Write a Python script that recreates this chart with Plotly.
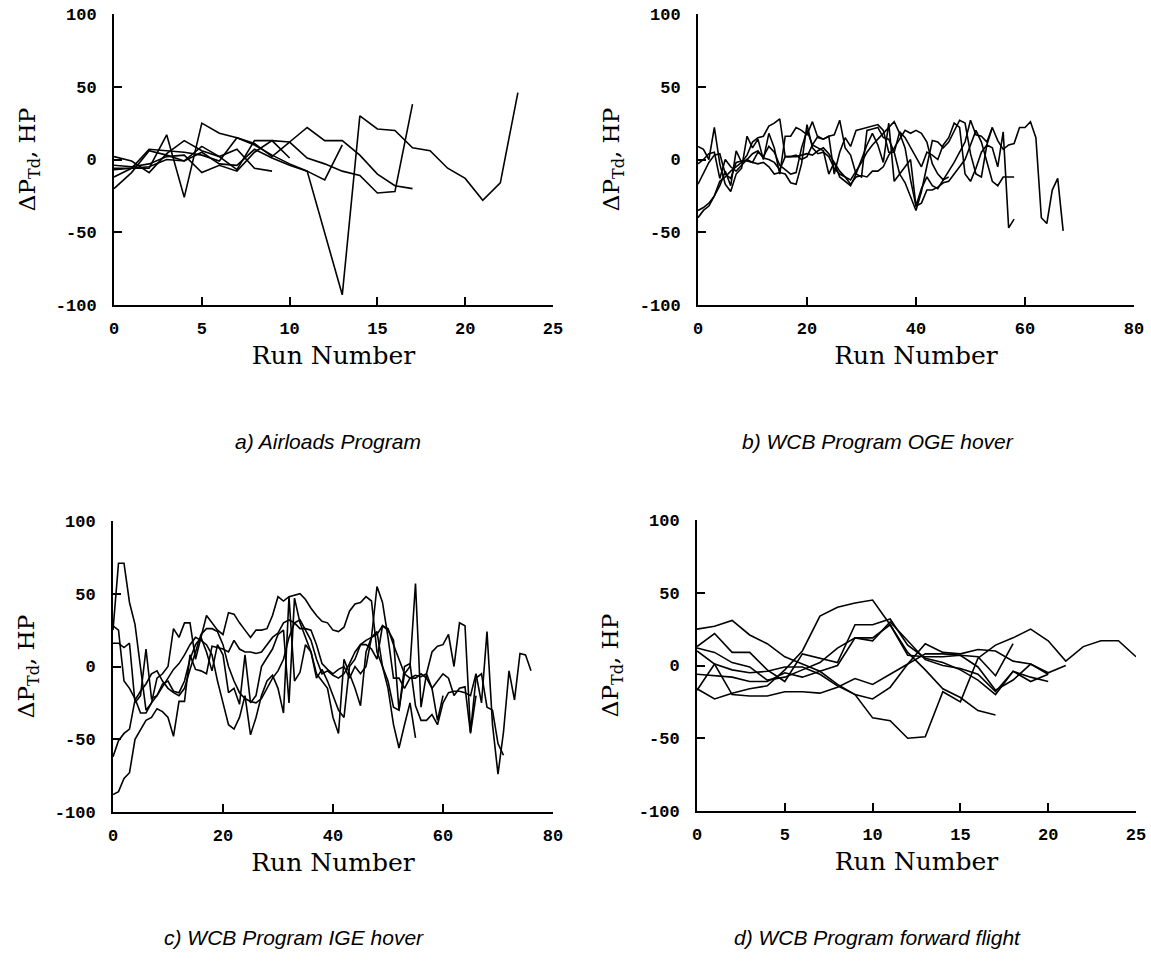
import plotly.graph_objects as go

W, H = 1151, 966

# ---------------- data ----------------
# a) Airloads Program (run number starts at 0)
a_series_1 = [-6, -6, -6, 17, -26, 25, 18, 15, 10, 3, -3, -8, -51, -93, 30, 21, 20, 8, 6, -6, -13, -28, -16, 46]
a_series_2 = [-7, -6, -5, 0, -1, 9, 2, -7, 13, 13, 12, 22, 13, 13, 3, -10, -18, -20]
a_series_3 = [-12, -6, 7, 6, 5, 3, -1, 15, 11, 2, 12, 1, -3, -8, -11, -23, -22, 38]
a_series_4 = [2, -1, -9, 4, 13, 6, 2, 7, -6, -8]
a_series_5 = [-20, -9, 6, 3, -1, 5, -3, -4, 7, 1, -4, -8, -14, 10]
a_series_6 = [-4, -5, -3, 2, 3, -9, -4, -8, 5, 13, 1]

# b) WCB Program OGE hover
b_series_1 = [-17, -10, -2, 3, 4, -10, -13, -2, -1, -1, -2, -3, -2, -5, -10, -9, -10, -16, -17, -3,
              24, 8, 4, 5, 2, -6, -10, -12, -17, -12, -11, -12, -8, -8, -5, 3, 8, 14, 20, 18,
              20, 18, 12, -3, -10, -14, -8, -2, 5, 12, 27, 17, 16, 12, 22, 13, 7, 10, 11, 22,
              22, 26, 15, -40, -44, -21, -13, -49]
b_series_2 = [-40, -35, -32, -25, -15, -12, -8, -5, -2, 0, 4, 6, 1, 0, -2, -7, 2, 2, 2, 3,
              4, 3, 6, 8, 4, -2, -8, -12, -14, -8, -2, 5, 10, 14, 18, 22, 26, 18, 8, -14,
              -32, -30, -21, -21, -19, -16, -15, -10, -5, 0, 10, 20, 12, -2, -15, -18, -12, -12, -12]
b_series_3 = [9, 7, 0, 22, -3, -17, -22, -10, -6, 16, 8, 14, 0, 18, 8, -10, 16, 16, 22, 20,
              17, 26, 15, 14, 16, 17, 27, 8, 3, -10, -12, 20, 21, 22, 15, 14, 5, -10, -16, -25,
              -35, -22, -5, 13, 12, 8, 12, 20, 27, 25, 4, -10, -12, 10, 8, -5, 19, -47, -41]
b_series_4 = [-35, -33, -30, -25, -18, -8, -18, 6, -2, 3, 12, 15, 16, 23, 25, 28, 2, 2, 3, 0,
              2, 10, 8, 6, -10, -2, -12, -15, -18, -10, 0, 10, 18, 10, -2, 25, -15, -10, -5, 0,
              -32, -20, -12, -18, -20, -14, -12]
b_series_5 = [-3, 0, 4, 5, -13, 0, -5, -8, -4, 0, -2, 5, 2, 9, 5, -4, -7, -10, -9, 8,
              20, 10, 16, 14, 16, -10, 5, 15, 9, 20, 21, 22, 23, 24, 20, 5, 5, 19, 15, 8,
              2, -5, 5, 3, 0, 10, 15, 25, 22, -10, -15, -6, 5, 10, 22]

# c) WCB Program IGE hover
c_series_1 = [25, 71, 71, 44, 29, -2, -30, -25, -8, -5, 0, 26, 20, 30, 30, 5, 20, 35, 30, 25,
              22, 37, 36, 30, 25, 20, 25, 25, 26, 35, 48, 45, 48, 49, 50, 46, 40, 35, 31, 30,
              25, 24, 27, 38, 43, 44, 48, 45, 10, 0, -10, -28, -30, 0, 2, -27, -37, -37, -33, -40,
              -25, -18, -17, -17, -18, -20, -5, -25, 24, -40, -74, -45, -3, -23, 9, 8, -3]
c_series_2 = [-88, -86, -77, -73, -50, -43, -37, -35, -29, -31, -35, -48, -24, -24, 8, -2, -3, -5, 14, 13,
              12, 10, 18, 12, 10, 10, 9, 10, 15, 20, 23, 30, 32, 30, 26, 26, 25, 15, 2, -2,
              -5, -2, 0, -8, 0, -5, 0, 20, 55, 44, 20, -8, -8, -15, -8, -6, -7, -5, 10, 14,
              15, 22, 0, 30, 28, -45, -8, -5, -28, -30, -53, -61]
c_series_3 = [28, 25, -10, -15, -22, -32, -32, -25, -20, -14, -8, -2, 2, 8, 15, 20, 18, 15, 8, -10,
              -25, -40, -43, -35, -20, -47, -35, -20, -10, -6, -15, -32, 48, -10, -4, 15, 10, -5, -10, -15,
              -35, -46, 5, -5, -15, -27, 10, 20, 24, 0, -15, -40, -56, -40, -25, -49]
c_series_4 = [16, 16, 13, 16, -25, -20, 12, -22, -20, -12, -10, -17, -18, -10, 5, 15, 20, 10, -3, 15,
              8, -18, -15, -26, 8, -25, -20, 0, 6, 12, 22, 25, -25, 47, 30, 20, 10, -8, -2, -10,
              -20, -30, -35, 0, 5, 15, 15, 12, 5, 28, 25, 18, -30, -5, 0, 57, -28, -5, -15, -37, -20]
c_series_5 = [-62, -51, -46, -43, -23, -17, -12, -5, -3, -10, -15, -18, -20, -15, -2, 10, 22, 26, 26, 24,
              15, 0, -10, -18, -22, -24, -25, -22, -15, -8, -3, 5, 20, 30, 32, 25, 18, 5, -5, -3,
              -6, -8, -5, 2, 10, 15, 18, 20, 22, 28, 26, 15, 5, -5, -8, -8, -5, -8, -15, -10,
              -5, -8, -20, -15, -14, -46, -20]

# d) WCB Program forward flight
d_series_1 = [25, 27, 31, 21, 15, 6, 1, -4, -13, -20, -36, -38, -50, -49, -18, -25, 5, 14, 19, 25, 17, 3, 13, 17, 17, 6]
d_series_2 = [-16, -23, -19, -16, -14, -3, 10, 34, 40, 43, 45, 28, 9, -3, -16, -22, -31, -34]
d_series_3 = [10, 1, -20, -21, -21, -18, -18, -19, -15, -9, -13, -6, 1, 15, 9, 8, 11, 10, 3, 1, -5, 0]
d_series_4 = [13, 22, 9, 9, -3, -11, 8, 5, 2, 28, 28, 32, 14, 5, 2, -3, -10, -20, -4, -11, -6]
d_series_5 = [12, 9, 2, -1, -10, -8, -3, 2, 12, 19, 17, 30, 17, 4, 0, -2, -6, -18, -4, -8, -11]
d_series_6 = [-6, -7, -8, -11, -11, -5, -8, -4, 0, 19, 19, 28, 7, 6, 6, 7, 6, -7, 15]
d_series_7 = [-17, 1, -3, -5, -4, -1, -1, -6, -14, -20, -23, -15, 1, 8, 8, 7, -1, -17, -10, 1, -6]

y_tick_values = [-100, -50, 0, 50, 100]
y_tick_labels = ["-100", "-50", "0", "50", "100"]
x_ticks_short = [0, 5, 10, 15, 20, 25]
x_ticks_long = [0, 20, 40, 60, 80]

captions = ["a) Airloads Program", "b) WCB Program OGE hover",
            "c) WCB Program IGE hover", "d) WCB Program forward flight"]
x_title = "Run Number"
y_title = "\u0394P<sub>Td</sub>, HP"

# ---------------- layout helpers ----------------
def px(x):
    return x / W

def py(y):
    return 1 - y / H

# plot boxes in pixels: (left, right, top, bottom)
boxes = {
    "a": (114, 553, 14, 305),
    "b": (698, 1134, 14, 305),
    "c": (113, 553, 521, 812),
    "d": (697, 1136, 520, 811),
}

panels = [
    ("a", "x", "y", [a_series_1, a_series_2, a_series_3, a_series_4, a_series_5, a_series_6], x_ticks_short, 25),
    ("b", "x2", "y2", [b_series_1, b_series_2, b_series_3, b_series_4, b_series_5], x_ticks_long, 80),
    ("c", "x3", "y3", [c_series_1, c_series_2, c_series_3, c_series_4, c_series_5], x_ticks_long, 80),
    ("d", "x4", "y4", [d_series_1, d_series_2, d_series_3, d_series_4, d_series_5, d_series_6, d_series_7], x_ticks_short, 25),
]

fig = go.Figure()
tick_font = dict(family="Liberation Mono, DejaVu Sans Mono, monospace", size=17, color="black", weight="bold")
title_font_family = "DejaVu Serif, Liberation Serif, serif"

layout = dict(
    width=W, height=H,
    margin=dict(l=0, r=0, t=0, b=0),
    paper_bgcolor="white", plot_bgcolor="white",
    showlegend=False,
    annotations=[],
)

caption_pos = {"a": (328, 442), "b": (878, 442), "c": (294, 937), "d": (877, 937)}

for key, xa, ya, series, xticks, xmax in panels:
    l, r, t, b = boxes[key]
    for s in series:
        fig.add_trace(go.Scatter(
            x=list(range(len(s))), y=s, mode="lines",
            line=dict(color="black", width=1.6),
            xaxis=xa, yaxis=ya, hoverinfo="skip",
        ))
    xname = "xaxis" if xa == "x" else "xaxis" + xa[1:]
    yname = "yaxis" if ya == "y" else "yaxis" + ya[1:]
    common = dict(
        showline=True, linecolor="black", linewidth=2,
        ticks="inside", ticklen=8, tickwidth=2, tickcolor="black",
        showgrid=False, zeroline=False, tickfont=tick_font,
        fixedrange=True, automargin=False,
    )
    layout[xname] = dict(common, domain=[px(l), px(r)], anchor=ya, range=[0, xmax],
                         tickmode="array", tickvals=xticks, ticklabelstandoff=7,
                         title=dict(text=x_title, standoff=8,
                                    font=dict(family=title_font_family, size=25, color="black")))
    layout[yname] = dict(common, domain=[py(b), py(t)], anchor=xa, range=[-100, 100],
                         tickmode="array", tickvals=y_tick_values, ticktext=y_tick_labels,
                         ticklabelstandoff=12,
                         title=dict(text=y_title, standoff=14,
                                    font=dict(family=title_font_family, size=23, color="black")))
    cx, cy = caption_pos[key]
    layout["annotations"].append(dict(
        x=px(cx), y=py(cy), xref="paper", yref="paper",
        text="<i>" + captions["abcd".index(key)] + "</i>", showarrow=False,
        xanchor="center", yanchor="middle",
        font=dict(family="Liberation Sans Narrow, Liberation Sans, Arial, sans-serif", size=21, color="black")))

fig.update_layout(**layout)
fig.write_html("out.html")
